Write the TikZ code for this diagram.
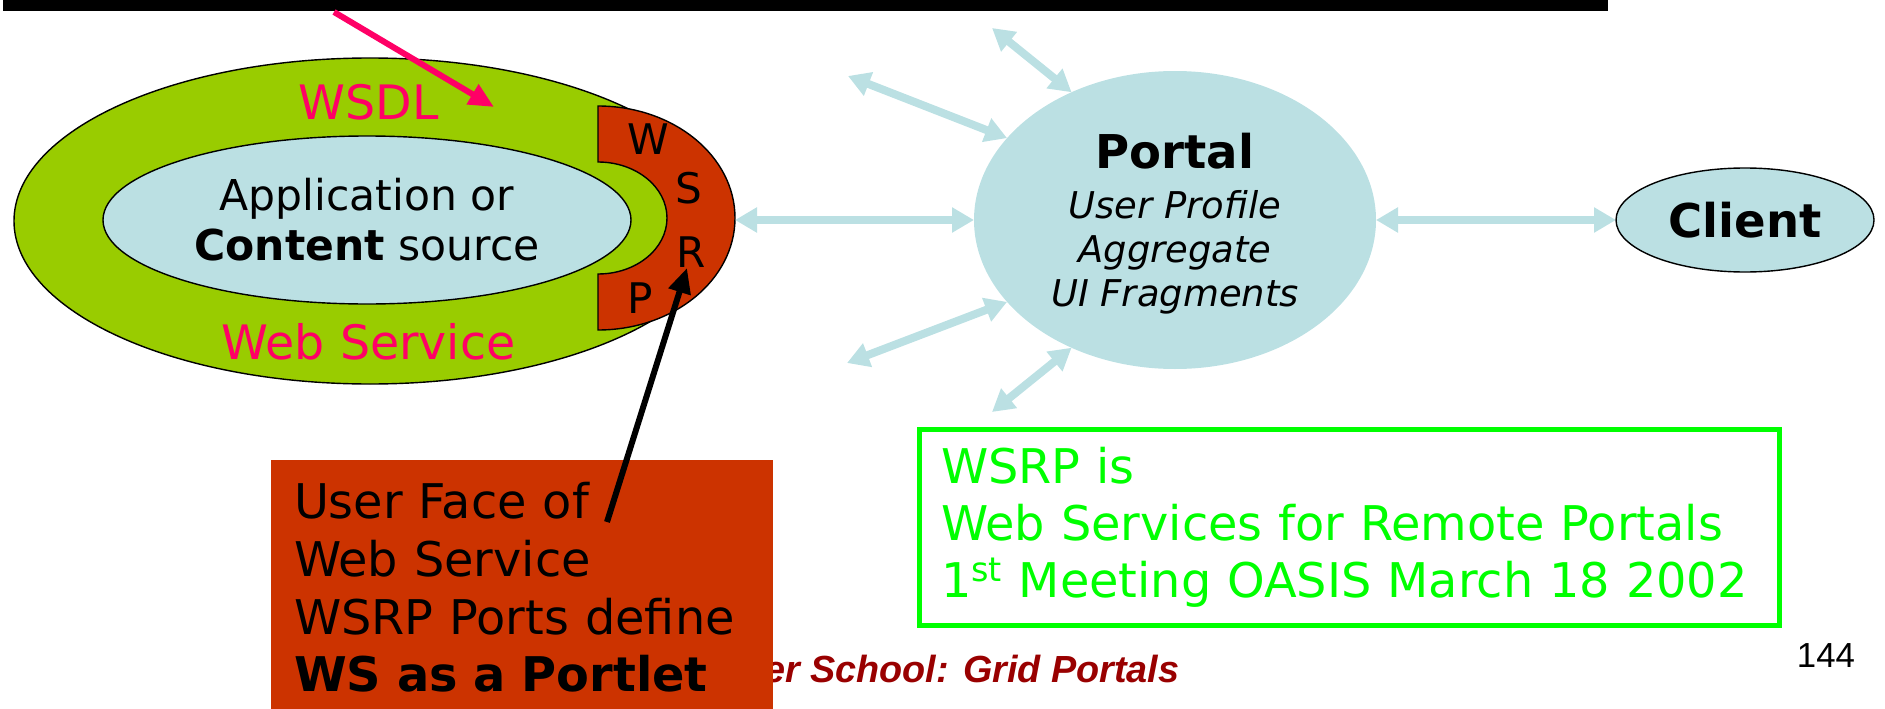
\documentclass[tikz,border=0pt]{standalone}
\usepackage{fontspec}
\setmainfont{DejaVu Sans}
\newfontfamily\footfont{Liberation Sans}
\usepackage{xcolor}
\usetikzlibrary{shapes.geometric, arrows.meta, positioning}
\definecolor{wsgreen}{RGB}{153,204,0}
\definecolor{paleblue}{RGB}{187,224,227}
\definecolor{wsrpred}{RGB}{204,51,0}
\definecolor{wsdlpink}{RGB}{255,0,102}
\definecolor{notegreen}{RGB}{0,255,0}
\definecolor{footred}{RGB}{153,0,0}

\begin{document}
\begin{tikzpicture}[
    outline/.style={draw=black, line width=0.8pt},
    bluelink/.style={paleblue, line width=0.16cm, {Triangle[length=0.44cm,width=0.48cm]}-{Triangle[length=0.44cm,width=0.48cm]}},
    pointer/.style={line width=0.12cm, -{Triangle[length=0.5cm,width=0.44cm]}},
    letter/.style={font=\fontsize{24}{28}\selectfont, inner sep=0pt},
    pinklabel/.style={text=wsdlpink, font=\fontsize{27}{32}\selectfont, inner sep=0pt}
  ]
  \useasboundingbox (0,0) rectangle (37.7,14.16);

  % Title bar along the top edge
  \fill[black] (0.06,13.94) rectangle (32.16,14.16);

  % Web Service ring with the content source inside
  \node[ellipse, outline, fill=wsgreen, minimum width=14.24cm, minimum height=6.52cm, inner sep=0pt] (ws) at (7.40,9.74) {};
  \node[ellipse, outline, fill=paleblue, minimum width=10.56cm, minimum height=3.36cm, inner sep=0pt,
        align=center, font=\fontsize{24.2}{28.4}\selectfont] (app) at (7.34,9.76) {Application or\\\textbf{Content} source};
  \node[pinklabel] (wsdl) at (7.37,12.12) {WSDL};
  \node[pinklabel] (wslabel) at (7.37,7.32) {Web Service};

  % WSRP crescent: outer half ellipse minus inner notch
  \draw[outline, fill=wsrpred] (11.96,12.04) -- (11.96,10.92)
    arc[start angle=90, end angle=-90, x radius=1.38, y radius=1.12]
    -- (11.96,7.56)
    arc[start angle=-90, end angle=90, x radius=2.74, y radius=2.24] -- cycle;
  \foreach \ch/\x/\y in {W/12.96/11.38, S/13.78/10.40, R/13.82/9.12, P/12.80/8.20}
    \node[letter] (l\ch) at (\x,\y) {\ch};
  \coordinate (wsrpE) at (14.70,9.76);

  % Portal and client
  \node[ellipse, fill=paleblue, minimum width=8.04cm, minimum height=5.96cm, inner sep=0pt, outer sep=0pt,
        align=center, text depth=0pt, font=\fontsize{21}{25}\selectfont] (portal) at (23.50,9.76)
        {{\fontsize{26.5}{30}\selectfont\bfseries Portal}\\[3.5pt]\textit{User Profile}\\\textit{Aggregate}\\\textit{UI Fragments}};
  \node[ellipse, outline, fill=paleblue, minimum width=5.16cm, minimum height=2.08cm, inner sep=0pt, outer sep=0pt,
        font=\fontsize{26.5}{30}\selectfont\bfseries, right=4.80cm of portal] (client) {Client};

  % Two-way links
  \draw[bluelink] (wsrpE) -- (portal);
  \draw[bluelink] (portal) -- (client);
  \foreach \name/\x/\y/\ang in {ul/16.96/12.64/154, up/19.84/13.60/129, dl/16.94/6.90/206, dn/19.84/5.92/231} {
    \coordinate (\name) at (\x,\y);
    \draw[bluelink] (\name) -- (portal.\ang);
  }

  % WSRP note
  \node[draw=notegreen, line width=0.1cm, outer sep=0pt, anchor=south west, minimum width=17.2cm, minimum height=3.92cm,
        text width=16.32cm, inner xsep=0.44cm, align=left, text=notegreen, font=\fontsize{27.2}{32.4}\selectfont]
        (note) at (18.38,1.66) {WSRP is\\Web Services for Remote Portals\\1\textsuperscript{st} Meeting OASIS March 18 2002};

  % Footer (partly hidden) and page number
  \node[anchor=base west, inner sep=0pt, text=footred, font=\footfont\fontsize{21.5}{25}\selectfont\bfseries\itshape]
        (footer) at (15.28,0.52) {er School: Grid Portals};
  \node[anchor=base, inner sep=0pt, font=\footfont\fontsize{19.8}{23}\selectfont] (pageno) at (36.52,0.82) {144};

  % User face box (runs off the bottom edge)
  \node[fill=wsrpred, anchor=south west, minimum width=10.04cm, minimum height=5.10cm, text width=9.12cm,
        inner xsep=0.46cm, outer sep=0pt, align=left, font=\fontsize{27.2}{32.8}\selectfont]
        (userface) at (5.42,-0.14) {User Face of\\Web Service\\WSRP Ports define\\\textbf{WS as a Portlet}};

  % Pointers
  \coordinate (facetail) at (12.14,3.72);
  \coordinate (rtip) at (13.74,8.80);
  \draw[pointer] (facetail) -- (rtip);
  \coordinate (wsdltail) at (6.68,13.92);
  \coordinate (wsdltip) at (9.88,12.02);
  \draw[pointer, wsdlpink] (wsdltail) -- (wsdltip);
\end{tikzpicture}
\end{document}
